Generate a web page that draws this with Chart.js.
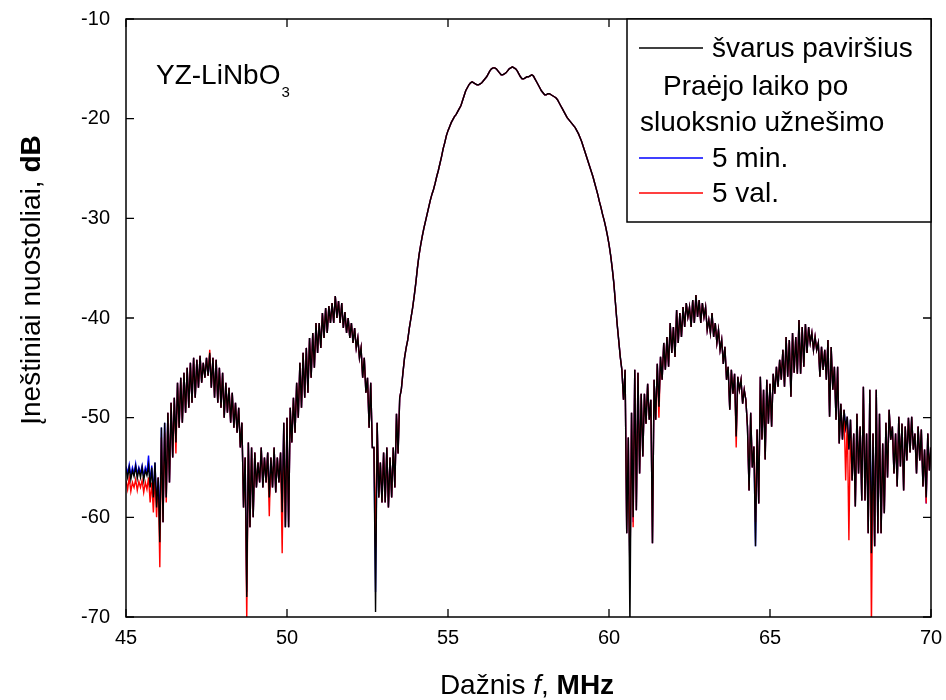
<!DOCTYPE html>
<html><head><meta charset="utf-8">
<script src="https://cdn.jsdelivr.net/npm/chart.js@4.4.1/dist/chart.umd.min.js"></script>
<style>html,body{margin:0;padding:0;background:#fff;}#wrap{width:946px;height:700px;}</style>
</head><body><div id="wrap"><canvas id="c" width="946" height="700"></canvas></div>
<script>
// frequency grid (MHz): one reading every 0.05 MHz
const freqStart = 45;
const freqStep = 0.05;
// insertion loss, dB — clean surface (one row per MHz)
const cleanSurface = [
-55.2,-56.0,-55.0,-56.2,-55.3,-55.9,-54.9,-56.1,-55.2,-56.0,-55.0,-56.3,-55.3,-55.8,-54.8,-57.0,-55.0,-58.0,-54.5,-59.0,
-56.0,-62.5,-51.0,-60.5,-50.5,-58.0,-49.5,-56.5,-48.5,-54.0,-48.0,-52.5,-46.5,-51.0,-46.0,-50.5,-45.5,-49.5,-45.0,-49.0,
-44.5,-48.5,-44.0,-48.0,-44.2,-47.0,-43.8,-46.5,-44.5,-46.0,-44.0,-45.8,-43.5,-47.0,-44.0,-48.0,-44.2,-48.5,-45.0,-49.0,
-45.5,-50.0,-46.5,-49.5,-47.0,-50.5,-47.5,-51.0,-48.5,-51.5,-49.0,-53.0,-50.5,-59.0,-54.0,-68.0,-52.5,-61.0,-53.0,-60.0,
-53.5,-57.0,-54.5,-56.5,-53.0,-57.0,-54.0,-56.5,-53.5,-58.0,-54.0,-57.0,-53.0,-57.5,-54.0,-56.5,-53.5,-59.5,-50.5,-61.0,
-50.0,-61.0,-49.0,-52.5,-48.0,-51.5,-46.5,-50.0,-44.5,-49.0,-43.5,-48.0,-43.0,-47.5,-42.0,-46.0,-41.5,-45.0,-40.5,-43.5,
-40.5,-43.0,-39.5,-42.0,-39.0,-41.5,-38.8,-40.5,-38.5,-40.5,-37.8,-40.0,-38.3,-40.5,-38.5,-41.0,-39.4,-41.5,-40.0,-42.0,
-40.5,-42.5,-41.0,-43.0,-42.0,-44.0,-43.0,-46.0,-44.0,-47.5,-46.0,-51.0,-46.5,-53.0,-53.0,-69.5,-50.5,-58.0,-54.5,-58.5,
-53.5,-58.5,-53.0,-59.0,-54.0,-58.0,-53.0,-57.0,-49.6,-53.6,-48.0,-47.2,-45.5,-44.0,-43.0,-42.2,-41.0,-40.0,-39.0,-37.8,
-36.5,-35.0,-33.7,-32.7,-31.8,-31.0,-30.3,-29.6,-28.9,-28.2,-27.6,-27.1,-26.5,-25.8,-25.2,-24.5,-23.8,-23.0,-22.4,-21.7,
-21.2,-20.8,-20.4,-20.1,-19.8,-19.6,-19.3,-19.0,-18.7,-18.2,-17.7,-17.2,-16.9,-16.6,-16.4,-16.3,-16.4,-16.5,-16.6,-16.6,
-16.5,-16.4,-16.2,-16.0,-15.8,-15.5,-15.2,-15.0,-14.9,-14.9,-15.0,-15.2,-15.4,-15.6,-15.6,-15.5,-15.4,-15.2,-15.0,-14.9,
-14.8,-14.9,-15.0,-15.2,-15.5,-15.8,-16.0,-16.0,-15.9,-15.8,-15.8,-15.7,-15.6,-15.7,-16.0,-16.3,-16.6,-16.9,-17.2,-17.4,
-17.6,-17.6,-17.5,-17.5,-17.6,-17.7,-17.8,-17.9,-18.1,-18.4,-18.7,-19.0,-19.3,-19.6,-19.9,-20.1,-20.3,-20.5,-20.7,-20.9,
-21.2,-21.5,-21.9,-22.3,-22.8,-23.3,-23.8,-24.3,-24.8,-25.3,-25.8,-26.4,-27.0,-27.6,-28.3,-28.9,-29.6,-30.2,-30.9,-31.7,
-32.6,-33.7,-35.0,-36.5,-38.5,-40.5,-42.2,-43.9,-45.2,-48.2,-45.2,-61.6,-52.0,-71.0,-49.5,-60.0,-45.2,-59.3,-45.5,-55.6,
-47.6,-53.9,-47.6,-50.6,-46.6,-50.2,-48.2,-62.6,-46.2,-50.2,-44.6,-48.9,-43.9,-46.2,-42.5,-45.2,-41.9,-44.9,-40.5,-43.5,
-40.9,-43.9,-39.2,-42.5,-39.5,-41.9,-38.9,-40.9,-38.5,-39.9,-38.9,-40.9,-38.2,-40.5,-37.7,-39.9,-38.2,-40.5,-38.5,-39.9,
-38.9,-41.2,-40.2,-41.5,-39.5,-41.9,-40.5,-42.5,-41.2,-43.2,-42.2,-44.6,-42.9,-46.2,-44.9,-49.2,-45.2,-47.6,-45.6,-51.9,
-45.9,-47.2,-46.2,-48.6,-47.2,-48.2,-50.9,-57.3,-49.5,-55.0,-52.9,-62.9,-51.2,-58.6,-45.9,-52.2,-47.2,-54.2,-46.2,-50.6,
-46.6,-50.9,-45.6,-47.6,-44.9,-46.9,-44.2,-46.2,-43.2,-46.9,-41.9,-45.9,-42.2,-47.9,-41.5,-45.5,-41.9,-45.6,-40.2,-45.6,
-40.9,-44.9,-40.6,-43.5,-40.9,-42.5,-41.5,-43.2,-41.9,-43.2,-42.5,-45.9,-42.9,-45.2,-43.2,-46.2,-42.2,-49.9,-42.9,-47.2,
-44.9,-50.2,-44.9,-52.6,-48.6,-52.2,-49.2,-51.0,-49.9,-53.2,-50.2,-56.3,-51.6,-58.9,-49.6,-55.6,-50.9,-58.3,-46.9,-58.3,
-51.6,-61.6,-47.2,-63.6,-51.6,-62.9,-47.2,-61.6,-49.6,-61.6,-52.6,-59.6,-50.5,-56.0,-49.2,-52.2,-50.9,-55.6,-51.6,-56.9,
-49.9,-54.9,-50.6,-57.3,-50.9,-54.3,-50.0,-53.5,-49.9,-53.2,-51.6,-55.6,-50.9,-54.3,-51.2,-56.9,-53.2,-58.0,-51.6,-55.3,
-53.0];
// 5 min after layer deposition
const after5min = [
-54.9,-55.6,-54.7,-55.8,-55.0,-55.6,-54.6,-55.7,-55.0,-55.6,-54.8,-55.9,-55.0,-55.5,-53.8,-56.5,-54.8,-57.5,-54.5,-58.5,
-56.0,-60.5,-51.0,-60.5,-50.5,-58.0,-49.5,-56.5,-48.5,-54.0,-48.0,-52.5,-46.5,-51.0,-46.0,-50.5,-45.5,-49.5,-45.0,-49.0,
-44.5,-48.5,-44.0,-48.0,-44.2,-47.0,-43.8,-46.5,-44.5,-46.0,-44.0,-45.8,-43.7,-47.0,-44.0,-48.0,-44.2,-48.5,-45.0,-49.0,
-45.5,-50.0,-46.5,-49.5,-47.0,-50.5,-47.5,-51.0,-48.5,-51.5,-49.0,-53.0,-50.5,-59.0,-54.0,-67.5,-52.5,-61.0,-53.0,-60.0,
-53.5,-57.0,-54.5,-56.5,-53.0,-57.0,-54.0,-56.5,-53.5,-58.0,-54.0,-57.0,-53.0,-57.5,-54.0,-56.5,-53.5,-59.5,-50.5,-61.0,
-50.0,-61.0,-49.0,-52.5,-48.0,-51.5,-46.5,-50.0,-44.5,-49.0,-43.5,-48.0,-43.0,-47.5,-42.0,-46.0,-41.5,-45.0,-40.5,-43.5,
-40.5,-43.0,-39.5,-42.0,-39.0,-41.5,-38.8,-40.5,-38.5,-40.5,-37.8,-40.0,-38.3,-40.5,-38.5,-41.0,-39.4,-41.5,-40.0,-42.0,
-40.5,-42.5,-41.0,-43.0,-42.0,-44.0,-43.0,-46.0,-44.0,-47.5,-46.0,-51.0,-46.5,-53.0,-53.0,-67.5,-50.5,-58.0,-54.5,-58.5,
-53.5,-58.5,-53.0,-59.0,-54.0,-58.0,-53.0,-57.0,-49.6,-53.6,-48.0,-47.2,-45.5,-44.0,-43.0,-42.2,-41.0,-40.0,-39.0,-37.8,
-36.5,-35.0,-33.7,-32.7,-31.8,-31.0,-30.3,-29.6,-28.9,-28.2,-27.6,-27.1,-26.5,-25.8,-25.2,-24.5,-23.8,-23.0,-22.4,-21.7,
-21.2,-20.8,-20.4,-20.1,-19.8,-19.6,-19.3,-19.0,-18.7,-18.2,-17.7,-17.2,-16.9,-16.6,-16.4,-16.3,-16.4,-16.5,-16.6,-16.6,
-16.5,-16.4,-16.2,-16.0,-15.8,-15.5,-15.2,-15.0,-14.9,-14.9,-15.0,-15.2,-15.4,-15.6,-15.6,-15.5,-15.4,-15.2,-15.0,-14.9,
-14.8,-14.9,-15.0,-15.2,-15.5,-15.8,-16.0,-16.0,-15.9,-15.8,-15.8,-15.7,-15.6,-15.7,-16.0,-16.3,-16.6,-16.9,-17.2,-17.4,
-17.6,-17.6,-17.5,-17.5,-17.6,-17.7,-17.8,-17.9,-18.1,-18.4,-18.7,-19.0,-19.3,-19.6,-19.9,-20.1,-20.3,-20.5,-20.7,-20.9,
-21.2,-21.5,-21.9,-22.3,-22.8,-23.3,-23.8,-24.3,-24.8,-25.3,-25.8,-26.4,-27.0,-27.6,-28.3,-28.9,-29.6,-30.2,-30.9,-31.7,
-32.6,-33.7,-35.0,-36.5,-38.5,-40.5,-42.2,-43.9,-45.2,-48.2,-45.2,-61.6,-52.0,-66.0,-49.5,-60.5,-45.2,-59.3,-45.5,-55.6,
-47.6,-53.9,-47.6,-50.6,-46.6,-50.2,-48.2,-62.6,-46.2,-50.2,-44.6,-48.9,-43.9,-46.2,-42.5,-45.2,-41.9,-44.9,-40.5,-43.5,
-40.9,-43.9,-39.2,-42.5,-39.5,-41.9,-38.9,-40.9,-38.5,-39.9,-38.9,-40.9,-38.2,-40.5,-37.7,-39.9,-38.2,-40.5,-38.5,-39.9,
-38.9,-41.2,-40.2,-41.5,-39.5,-41.9,-40.5,-42.5,-41.2,-43.2,-42.2,-44.6,-42.9,-46.2,-44.9,-49.2,-45.2,-47.6,-45.6,-51.9,
-45.9,-47.2,-46.2,-48.6,-47.2,-48.2,-50.9,-57.3,-49.5,-55.0,-52.9,-62.9,-51.2,-58.6,-45.9,-52.2,-47.2,-54.2,-46.2,-50.6,
-46.6,-50.9,-45.6,-47.6,-44.9,-46.9,-44.2,-46.2,-43.2,-46.9,-41.9,-45.9,-42.2,-47.9,-41.5,-45.5,-41.9,-45.6,-40.2,-45.6,
-40.9,-44.9,-40.6,-43.5,-40.9,-42.5,-41.5,-43.2,-41.9,-43.2,-42.5,-45.9,-42.9,-45.2,-43.2,-46.2,-42.2,-49.9,-42.9,-47.2,
-44.9,-50.2,-44.9,-52.6,-48.6,-52.2,-49.2,-51.0,-49.9,-53.2,-50.2,-56.3,-51.6,-58.9,-49.6,-55.6,-50.9,-58.3,-46.9,-58.3,
-51.6,-61.6,-47.2,-63.6,-51.6,-62.9,-47.2,-61.6,-49.6,-61.6,-52.6,-59.6,-50.5,-56.0,-49.2,-52.2,-50.9,-55.6,-51.6,-56.9,
-49.9,-54.9,-50.6,-57.3,-50.9,-54.3,-50.0,-53.5,-49.9,-53.2,-51.6,-55.6,-50.9,-54.3,-51.2,-56.9,-53.2,-58.6,-51.6,-55.3,
-53.0];
// 5 h after layer deposition
const after5h = [
-56.3,-57.2,-56.0,-57.4,-56.5,-57.0,-56.2,-57.3,-56.4,-57.0,-56.3,-57.5,-56.5,-57.2,-56.0,-58.5,-56.5,-59.5,-56.0,-60.0,
-56.0,-65.0,-52.0,-60.5,-51.5,-58.5,-49.5,-56.5,-48.5,-54.0,-48.0,-53.6,-46.5,-51.0,-46.0,-50.5,-45.5,-49.5,-45.0,-49.0,
-44.5,-48.5,-44.0,-48.0,-44.2,-47.0,-43.8,-46.5,-44.5,-46.0,-44.0,-45.8,-43.2,-47.0,-44.0,-48.0,-44.2,-48.5,-45.0,-49.0,
-45.5,-50.0,-46.5,-49.5,-47.0,-50.5,-47.5,-51.0,-48.5,-51.5,-49.0,-53.0,-50.5,-59.0,-54.0,-70.5,-52.5,-61.0,-53.0,-60.0,
-53.5,-57.0,-54.5,-56.5,-53.0,-57.0,-54.0,-56.5,-53.5,-59.9,-54.0,-57.0,-53.0,-57.5,-54.0,-56.5,-53.5,-63.6,-50.5,-61.0,
-50.0,-61.0,-49.0,-52.5,-48.0,-51.5,-46.5,-50.0,-44.5,-49.0,-43.5,-48.0,-43.0,-47.5,-42.0,-46.0,-41.5,-45.0,-40.5,-43.5,
-40.5,-43.0,-39.5,-42.0,-39.0,-41.5,-38.8,-40.5,-38.5,-40.5,-37.8,-40.0,-38.3,-40.5,-38.5,-41.0,-39.4,-41.5,-40.0,-42.0,
-40.5,-42.5,-41.0,-43.0,-42.0,-44.0,-43.0,-46.0,-44.0,-47.5,-46.0,-51.0,-46.5,-53.0,-53.0,-63.0,-50.5,-58.0,-54.5,-58.5,
-53.5,-58.5,-53.0,-59.0,-54.0,-58.0,-53.0,-57.0,-49.6,-53.6,-48.0,-47.2,-45.5,-44.0,-43.0,-42.2,-41.0,-40.0,-39.0,-37.8,
-36.5,-35.0,-33.7,-32.7,-31.8,-31.0,-30.3,-29.6,-28.9,-28.2,-27.6,-27.1,-26.5,-25.8,-25.2,-24.5,-23.8,-23.0,-22.4,-21.7,
-21.2,-20.8,-20.4,-20.1,-19.8,-19.6,-19.3,-19.0,-18.7,-18.2,-17.7,-17.2,-16.9,-16.6,-16.4,-16.3,-16.4,-16.5,-16.6,-16.6,
-16.5,-16.4,-16.2,-16.0,-15.8,-15.5,-15.2,-15.0,-14.9,-14.9,-15.0,-15.2,-15.4,-15.6,-15.6,-15.5,-15.4,-15.2,-15.0,-14.9,
-14.8,-14.9,-15.0,-15.2,-15.5,-15.8,-16.0,-16.0,-15.9,-15.8,-15.8,-15.7,-15.6,-15.7,-16.0,-16.3,-16.6,-16.9,-17.2,-17.4,
-17.6,-17.6,-17.5,-17.5,-17.6,-17.7,-17.8,-17.9,-18.1,-18.4,-18.7,-19.0,-19.3,-19.6,-19.9,-20.1,-20.3,-20.5,-20.7,-20.9,
-21.2,-21.5,-21.9,-22.3,-22.8,-23.3,-23.8,-24.3,-24.8,-25.3,-25.8,-26.4,-27.0,-27.6,-28.3,-28.9,-29.6,-30.2,-30.9,-31.7,
-32.6,-33.7,-35.0,-36.5,-38.5,-40.5,-42.2,-43.9,-45.2,-48.2,-45.2,-61.6,-52.0,-66.0,-49.5,-61.0,-45.2,-59.3,-45.5,-55.6,
-47.6,-53.9,-47.6,-50.6,-46.6,-50.2,-48.2,-62.6,-46.2,-50.2,-44.6,-50.0,-43.9,-46.2,-42.5,-45.2,-41.9,-44.9,-40.5,-43.5,
-40.9,-43.9,-39.2,-42.5,-39.5,-41.9,-38.9,-40.9,-38.5,-39.9,-38.9,-40.9,-38.2,-40.5,-37.7,-39.9,-38.2,-40.5,-38.5,-39.9,
-38.9,-41.2,-40.2,-41.5,-39.5,-41.9,-40.5,-42.5,-41.2,-43.2,-42.2,-44.6,-42.9,-46.2,-44.9,-49.2,-45.2,-47.6,-45.6,-53.0,
-45.9,-47.2,-46.2,-48.6,-47.2,-48.2,-50.9,-57.3,-49.5,-55.0,-52.9,-60.5,-51.2,-58.6,-45.9,-52.2,-47.2,-54.2,-46.2,-50.6,
-46.6,-50.9,-45.6,-47.6,-44.9,-46.9,-44.2,-46.2,-43.2,-46.9,-41.9,-45.9,-42.2,-47.9,-41.5,-45.5,-41.9,-45.6,-40.2,-45.6,
-40.9,-44.9,-40.6,-43.5,-40.9,-42.5,-41.5,-43.2,-41.9,-43.2,-42.5,-45.9,-42.9,-45.2,-43.2,-46.2,-42.2,-49.9,-42.9,-47.2,
-44.9,-50.2,-44.9,-52.6,-48.6,-52.2,-49.2,-56.3,-49.9,-62.3,-50.2,-56.3,-51.6,-58.9,-49.6,-55.6,-50.9,-58.3,-46.9,-58.3,
-51.6,-61.6,-47.2,-71.0,-51.6,-62.9,-47.2,-61.6,-49.6,-61.6,-52.6,-59.6,-50.5,-56.0,-49.2,-52.2,-50.9,-55.6,-51.6,-56.9,
-49.9,-54.9,-50.6,-57.3,-50.9,-54.3,-50.0,-53.5,-49.9,-53.2,-51.6,-55.6,-50.9,-54.3,-51.2,-56.9,-53.2,-58.6,-51.6,-55.3,
-53.0];
const xTicks = [45, 50, 55, 60, 65, 70];
const yTicks = [-70, -60, -50, -40, -30, -20, -10];
const seriesNames = ['švarus paviršius', '5 min.', '5 val.'];
const seriesColors = ['#000000', '#0000ff', '#ff0000'];

const FONT = '"Liberation Sans", Arial, Helvetica, sans-serif';
const toPts = arr => arr.map((v, i) => ({x: +(freqStart + i * freqStep).toFixed(2), y: v}));

function drawRuns(ctx, runs, x, y, align) {
  let w = 0;
  for (const r of runs) { ctx.font = r.f; w += ctx.measureText(r.t).width; }
  let cx = align === 'center' ? x - w / 2 : x;
  ctx.textAlign = 'left';
  for (const r of runs) { ctx.font = r.f; ctx.fillText(r.t, cx, y); cx += ctx.measureText(r.t).width; }
}

const decor = {
  id: 'decor',
  afterDraw(chart) {
    const {ctx, chartArea: a, scales: {x, y}} = chart;
    ctx.save();
    ctx.strokeStyle = '#000'; ctx.lineWidth = 1.5;
    ctx.strokeRect(a.left, a.top, a.right - a.left, a.bottom - a.top);
    ctx.lineWidth = 1.3;
    ctx.beginPath();
    for (const v of xTicks) {
      const px = x.getPixelForValue(v);
      ctx.moveTo(px, a.bottom); ctx.lineTo(px, a.bottom - 8);
      ctx.moveTo(px, a.top); ctx.lineTo(px, a.top + 8);
    }
    for (const v of yTicks) {
      const py = y.getPixelForValue(v);
      ctx.moveTo(a.left, py); ctx.lineTo(a.left + 8, py);
      ctx.moveTo(a.right, py); ctx.lineTo(a.right - 8, py);
    }
    ctx.stroke();

    ctx.fillStyle = '#000';
    ctx.textBaseline = 'alphabetic';
    drawRuns(ctx, [{t: 'YZ-LiNbO', f: '28px ' + FONT}], 156, 84, 'left');
    ctx.font = '28px ' + FONT;
    const wAnn = ctx.measureText('YZ-LiNbO').width;
    drawRuns(ctx, [{t: '3', f: '15px ' + FONT}], 156 + wAnn + 1, 97, 'left');

    const lx = 627, ly = a.top, lw = a.right - 627, lh = 203;
    ctx.fillStyle = '#fff';
    ctx.fillRect(lx, ly, lw, lh);
    ctx.strokeStyle = '#000'; ctx.lineWidth = 1.5;
    ctx.strokeRect(lx, ly, lw, lh);
    const rows = [
      {type: 'line', c: seriesColors[0], t: seriesNames[0], y: 48},
      {type: 'text', t: 'Praėjo laiko po', x: 663, y: 86},
      {type: 'text', t: 'sluoksnio užnešimo', x: 640, y: 122},
      {type: 'line', c: seriesColors[1], t: seriesNames[1], y: 158},
      {type: 'line', c: seriesColors[2], t: seriesNames[2], y: 193}
    ];
    ctx.textBaseline = 'middle';
    for (const r of rows) {
      ctx.fillStyle = '#000';
      if (r.type === 'line') {
        ctx.strokeStyle = r.c; ctx.lineWidth = 1.5;
        ctx.beginPath(); ctx.moveTo(639, r.y); ctx.lineTo(703, r.y); ctx.stroke();
        drawRuns(ctx, [{t: r.t, f: '28px ' + FONT}], 712, r.y + 1, 'left');
      } else {
        drawRuns(ctx, [{t: r.t, f: '28px ' + FONT}], r.x, r.y + 1, 'left');
      }
    }

    ctx.textBaseline = 'alphabetic';
    ctx.fillStyle = '#000';
    drawRuns(ctx, [
      {t: 'Dažnis ', f: '28px ' + FONT},
      {t: 'f', f: 'italic 28px ' + FONT},
      {t: ', ', f: '28px ' + FONT},
      {t: 'MHz', f: 'bold 28px ' + FONT}
    ], 527, 694, 'center');
    ctx.save();
    ctx.translate(40, 280);
    ctx.rotate(-Math.PI / 2);
    drawRuns(ctx, [
      {t: 'Įneštiniai nuostoliai, ', f: '28px ' + FONT},
      {t: 'dB', f: 'bold 28px ' + FONT}
    ], 0, 0, 'center');
    ctx.restore();
    ctx.restore();
  }
};

const datasets = [
  {label: seriesNames[0], data: toPts(cleanSurface), borderColor: seriesColors[0], order: 0},
  {label: seriesNames[1], data: toPts(after5min), borderColor: seriesColors[1], order: 2},
  {label: seriesNames[2], data: toPts(after5h), borderColor: seriesColors[2], order: 1}
].map(d => Object.assign(d, {borderWidth: 1.4, pointRadius: 0, tension: 0, fill: false}));

new Chart(document.getElementById('c'), {
  type: 'line',
  data: {datasets},
  options: {
    responsive: false,
    animation: false,
    layout: {padding: {top: 19, right: 15, left: 0, bottom: 0}},
    plugins: {legend: {display: false}, tooltip: {enabled: false}},
    scales: {
      x: {
        type: 'linear', min: 45, max: 70,
        afterBuildTicks: s => { s.ticks = xTicks.map(v => ({value: v})); },
        afterFit: s => { s.height = 83; s.paddingLeft = 0; s.paddingRight = 0; },
        grid: {display: false, drawTicks: false},
        border: {display: false},
        ticks: {font: {family: FONT, size: 20}, color: '#000', padding: 9, maxRotation: 0}
      },
      y: {
        type: 'linear', min: -70, max: -10,
        afterBuildTicks: s => { s.ticks = yTicks.map(v => ({value: v})); },
        afterFit: s => { s.width = 126; s.paddingTop = 0; s.paddingBottom = 0; },
        grid: {display: false, drawTicks: false},
        border: {display: false},
        ticks: {font: {family: FONT, size: 20}, color: '#000', padding: 16}
      }
    }
  },
  plugins: [decor]
});
</script>
</body></html>
